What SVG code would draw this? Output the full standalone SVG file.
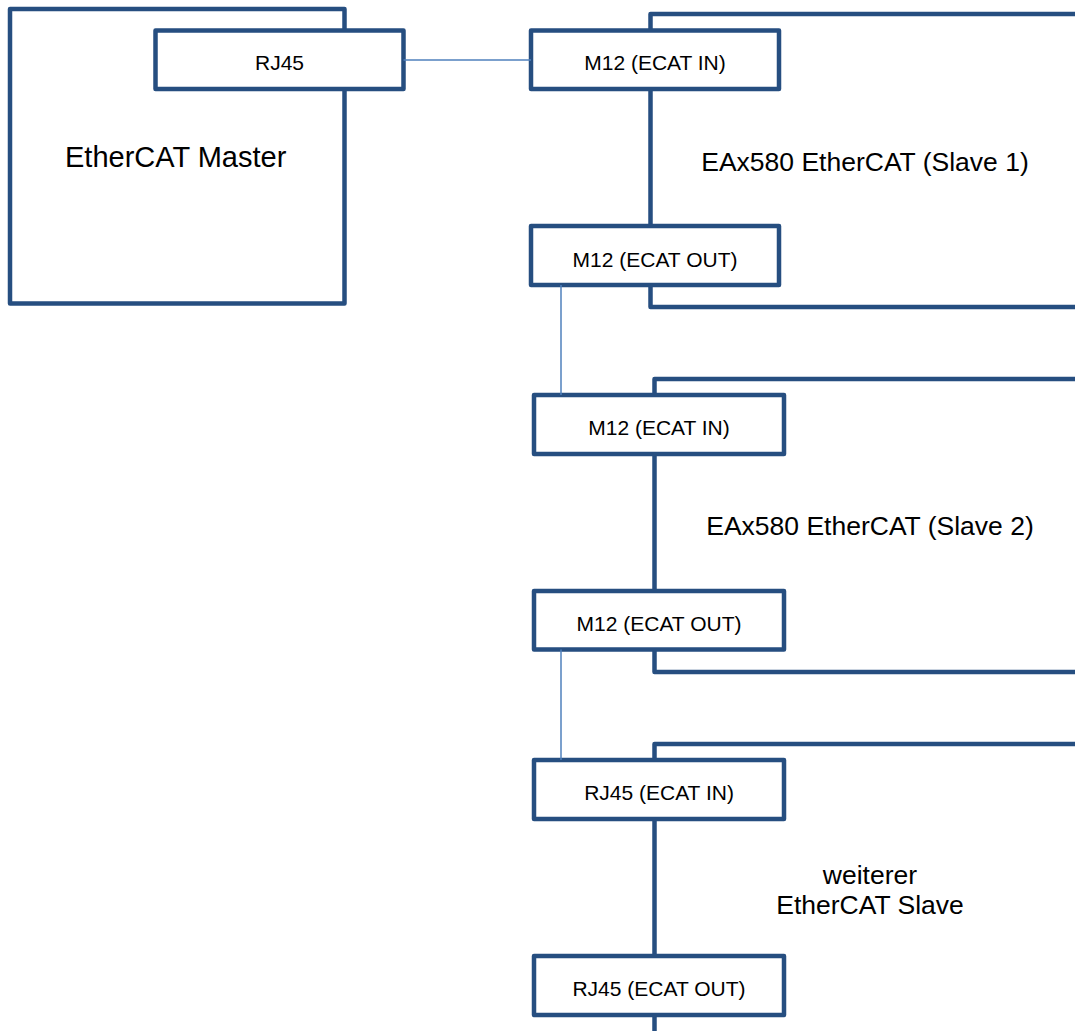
<svg xmlns="http://www.w3.org/2000/svg" width="1075" height="1031" viewBox="0 0 1075 1031">
<style>
.box{fill:#fff;stroke:#264E80;stroke-width:4.5;stroke-linejoin:round}
.outline{fill:none;stroke:#264E80;stroke-width:4.5;stroke-linejoin:round}
.wire{fill:none;stroke:#4F81BD;stroke-width:1.5}
text{font-family:"Liberation Sans",Arial,sans-serif;fill:#000}
.lbl{font-size:21px;text-anchor:middle}
.big{font-size:26.5px}
</style>
<rect width="1075" height="1031" fill="#fff"/>
<g id="master">
<rect class="box" x="10" y="9" width="334.5" height="294.5"/>
<text class="big" x="65" y="167" style="font-size:29px">EtherCAT Master</text>
</g>
<g id="master-rj45">
<rect class="box" x="155.5" y="30.5" width="248" height="58.5"/>
<text class="lbl" x="279.5" y="70">RJ45</text>
</g>
<g id="slave1">
<rect class="outline" x="650.5" y="14" width="500" height="293"/>
<text class="big" x="865" y="171" text-anchor="middle">EAx580 EtherCAT (Slave 1)</text>
</g>
<g id="slave1-in">
<rect class="box" x="531" y="30.5" width="248" height="58.5"/>
<text class="lbl" x="655" y="70">M12 (ECAT IN)</text>
</g>
<g id="slave1-out">
<rect class="box" x="531" y="226" width="248" height="59"/>
<text class="lbl" x="655" y="266.5">M12 (ECAT OUT)</text>
</g>
<g id="slave2">
<rect class="outline" x="654.5" y="379" width="500" height="293"/>
<text class="big" x="870" y="535" text-anchor="middle">EAx580 EtherCAT (Slave 2)</text>
</g>
<g id="slave2-in">
<rect class="box" x="534" y="395" width="250" height="59"/>
<text class="lbl" x="659" y="435">M12 (ECAT IN)</text>
</g>
<g id="slave2-out">
<rect class="box" x="534" y="591" width="250" height="58.5"/>
<text class="lbl" x="659" y="631">M12 (ECAT OUT)</text>
</g>
<g id="slave3">
<rect class="outline" x="654.5" y="744" width="500" height="320"/>
<text class="big" x="870" y="883.5" text-anchor="middle">weiterer</text>
<text class="big" x="870" y="914" text-anchor="middle">EtherCAT Slave</text>
</g>
<g id="slave3-in">
<rect class="box" x="534" y="760" width="250" height="59"/>
<text class="lbl" x="659" y="800">RJ45 (ECAT IN)</text>
</g>
<g id="slave3-out">
<rect class="box" x="534" y="956" width="250" height="59"/>
<text class="lbl" x="659" y="996">RJ45 (ECAT OUT)</text>
</g>
<g id="connectors">
<line class="wire" x1="403.5" y1="60" x2="531" y2="60"/>
<line class="wire" x1="561" y1="285" x2="561" y2="395"/>
<line class="wire" x1="561" y1="649.5" x2="561" y2="760"/>
</g>
</svg>
